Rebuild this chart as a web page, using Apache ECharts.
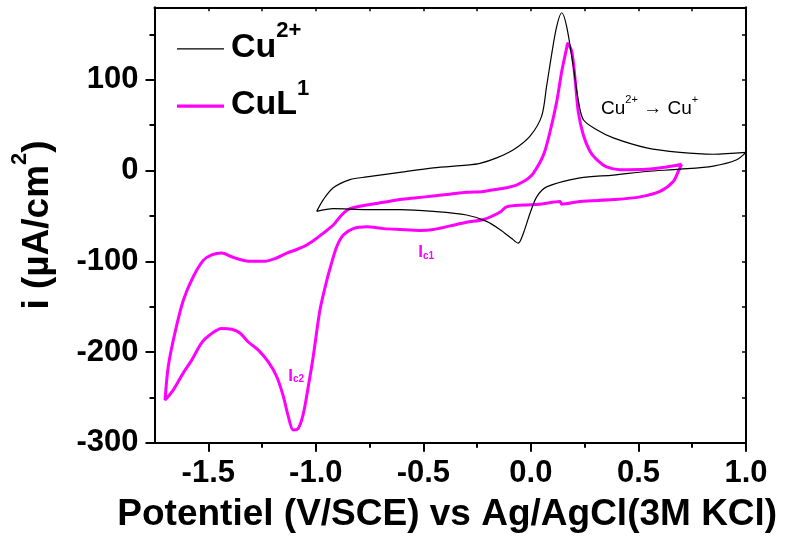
<!DOCTYPE html>
<html>
<head>
<meta charset="utf-8">
<title>Voltammogrammes cycliques Cu2+ / CuL1</title>
<script src="https://cdn.jsdelivr.net/npm/echarts@6/dist/echarts.min.js"></script>
<style>
  html, body { margin: 0; padding: 0; background: #fff; }
  #chart { width: 789px; height: 547px; }
</style>
</head>
<body>
<div id="chart"></div>
<script>
// Cyclic voltammogram of free Cu2+ (thin black) and the CuL1 complex (magenta).
// Potential in V, current density in µA/cm², points listed in scan order.
const cuPotential = [
  -0.996, -0.965, -0.919, -0.841, -0.763, -0.609, -0.454, -0.299, -0.237, -0.159,
  -0.081, -0.004, 0.050, 0.073, 0.097, 0.120, 0.143, 0.166, 0.197, 0.220,
  0.244, 0.306, 0.383, 0.538, 0.693, 0.848, 1.000, 0.957, 0.848, 0.693,
  0.538, 0.383, 0.228, 0.073, 0.027, -0.004, -0.035, -0.059, -0.089, -0.144,
  -0.206, -0.299, -0.454, -0.609, -0.763, -0.919, -0.996
];
const cuCurrent = [
  -45, -32, -19, -10, -7, -2, 3, 6, 8, 14,
  23, 38, 60, 93, 129, 159, 174, 159, 115, 78,
  56, 45, 36, 25, 20, 18, 20, 12, 5, 1.5,
  -1, -5, -8, -18, -29, -47, -69, -80, -75, -65,
  -56, -49, -45, -43, -43, -42, -45
];

const culPotential = [
  0.701, 0.685, 0.662, 0.600, 0.507, 0.383, 0.228, 0.143, 0.135, 0.042,
  -0.035, -0.113, -0.144, -0.221, -0.299, -0.376, -0.454, -0.516, -0.609, -0.686,
  -0.763, -0.826, -0.872, -0.903, -0.934, -0.949, -0.981, -1.012, -1.035, -1.058,
  -1.081, -1.105, -1.128, -1.151, -1.182, -1.221, -1.267, -1.314, -1.353, -1.391,
  -1.438, -1.492, -1.531, -1.577, -1.616, -1.663, -1.701, -1.686, -1.655, -1.616,
  -1.570, -1.523, -1.484, -1.438, -1.391, -1.352, -1.306, -1.236, -1.190, -1.135,
  -1.089, -1.042, -1.004, -0.965, -0.919, -0.880, -0.841, -0.763, -0.686, -0.609,
  -0.531, -0.454, -0.376, -0.299, -0.221, -0.144, -0.113, -0.067, -0.035, -0.020,
  0.011, 0.058, 0.089, 0.120, 0.143, 0.166, 0.171, 0.190, 0.205, 0.220,
  0.244, 0.275, 0.306, 0.352, 0.414, 0.538, 0.631, 0.701
];
const culCurrent = [
  7, -1, -12, -23, -29, -32, -34, -37, -34, -37,
  -38, -40, -46, -54, -57, -61, -65, -66, -65, -64,
  -62, -64, -71, -84, -108, -121, -154, -205, -238, -268,
  -284, -286, -271, -249, -227, -211, -198, -189, -179, -175,
  -174, -181, -190, -209, -223, -242, -253, -216, -179, -143,
  -117, -99, -93, -91, -95, -98, -100, -100, -97, -91,
  -87, -82, -76, -69, -60, -49, -42, -38, -35, -32,
  -30, -28, -26, -24, -23, -20, -19, -16, -12, -10,
  -3, 17, 43, 76, 109, 135, 140, 131, 102, 65,
  39, 21, 12, 4, 1, 1.5, 4, 7
];

// Tick positions
const xMajorTicks = [-1.5, -1.0, -0.5, 0.0, 0.5, 1.0];
const xMinorTicks = [-1.25, -0.75, -0.25, 0.25, 0.75];
const yMajorTicks = [-300, -200, -100, 0, 100];
const yMinorTicks = [-250, -150, -50, 50, 150];

const seriesNames = ['Cu2+', 'CuL1'];

const FONT = "'Liberation Sans', Arial, Helvetica, sans-serif";
const MAGENTA = '#ff00ff';
const X_RANGE = { min: -1.75, max: 1.0 };
const Y_RANGE = { min: -300, max: 180 };

function pairs(xs, ys) {
  return xs.map((x, i) => [x, ys[i]]);
}

const hiddenLabel = { show: false };
const frameLine = { show: true, onZero: false, lineStyle: { color: '#000', width: 2 } };

const chart = echarts.init(document.getElementById('chart'), null, { renderer: 'canvas' });

chart.setOption({
  animation: false,
  backgroundColor: '#fff',
  textStyle: { fontFamily: FONT },
  grid: { left: 154.5, right: 43, top: 7.3, bottom: 104.3, containLabel: false },
  legend: {
    orient: 'vertical',
    left: 172,
    top: 15.4,
    itemWidth: 47,
    itemHeight: 14,
    itemGap: 13.2,
    data: [
      { name: seriesNames[0], icon: 'path://M0 0H47V1.4H0Z' },
      { name: seriesNames[1], icon: 'path://M0 0H47V3.2H0Z' }
    ],
    formatter: function (name) {
      return name === 'Cu2+' ? '{m|Cu}{s|2+}' : '{m|CuL}{s|1}';
    },
    textStyle: {
      padding: [0, 0, 13, 2],
      rich: {
        m: { fontFamily: FONT, fontSize: 34, fontWeight: 'bold', color: '#000', lineHeight: 44, verticalAlign: 'bottom' },
        s: { fontFamily: FONT, fontSize: 22, fontWeight: 'bold', color: '#000', lineHeight: 2, verticalAlign: 'top' }
      }
    }
  },
  xAxis: [
    {
      type: 'value', position: 'bottom', ...X_RANGE,
      axisLine: frameLine,
      axisTick: { show: true, customValues: xMajorTicks, length: 9, inside: false, lineStyle: { color: '#000', width: 2 } },
      axisLabel: {
        customValues: xMajorTicks, margin: 15,
        fontFamily: FONT, fontSize: 31, fontWeight: 'bold', color: '#000',
        formatter: v => Number(v).toFixed(1)
      },
      splitLine: { show: false },
      name: 'Potentiel (V/SCE) vs Ag/AgCl(3M KCl)',
      nameLocation: 'middle',
      nameGap: 54,
      nameTextStyle: { fontFamily: FONT, fontSize: 37, fontWeight: 'bold', color: '#000', padding: [0, 6, 0, 0] }
    },
    {
      type: 'value', position: 'bottom', ...X_RANGE,
      axisLine: { show: false, onZero: false },
      axisTick: { show: true, customValues: xMinorTicks, length: 5, inside: false, lineStyle: { color: '#000', width: 2 } },
      axisLabel: hiddenLabel,
      splitLine: { show: false }
    },
    {
      type: 'value', position: 'top', ...X_RANGE,
      axisLine: frameLine,
      axisTick: { show: true, customValues: xMajorTicks.concat(xMinorTicks), length: 4, inside: true, lineStyle: { color: '#000', width: 1.5 } },
      axisLabel: hiddenLabel,
      splitLine: { show: false }
    }
  ],
  yAxis: [
    {
      type: 'value', position: 'left', ...Y_RANGE,
      axisLine: frameLine,
      axisTick: { show: true, customValues: yMajorTicks, length: 9, inside: false, lineStyle: { color: '#000', width: 2 } },
      axisLabel: {
        customValues: yMajorTicks, margin: 16,
        fontFamily: FONT, fontSize: 31, fontWeight: 'bold', color: '#000'
      },
      splitLine: { show: false },
      name: '{m|i (µA/cm}{s|2}{m|)}',
      nameLocation: 'middle',
      nameGap: 98,
      nameTextStyle: {
        rich: {
          m: { fontFamily: FONT, fontSize: 37, fontWeight: 'bold', color: '#000', lineHeight: 48, verticalAlign: 'bottom' },
          s: { fontFamily: FONT, fontSize: 22, fontWeight: 'bold', color: '#000', lineHeight: 2, verticalAlign: 'top' }
        }
      }
    },
    {
      type: 'value', position: 'left', ...Y_RANGE,
      axisLine: { show: false, onZero: false },
      axisTick: { show: true, customValues: yMinorTicks, length: 5, inside: false, lineStyle: { color: '#000', width: 2 } },
      axisLabel: hiddenLabel,
      splitLine: { show: false }
    },
    {
      type: 'value', position: 'right', ...Y_RANGE,
      axisLine: frameLine,
      axisTick: { show: true, customValues: yMajorTicks.concat(yMinorTicks), length: 4, inside: true, lineStyle: { color: '#000', width: 1.5 } },
      axisLabel: hiddenLabel,
      splitLine: { show: false }
    }
  ],
  series: [
    {
      name: seriesNames[0],
      type: 'line',
      xAxisIndex: 0, yAxisIndex: 0,
      data: pairs(cuPotential, cuCurrent),
      symbol: 'none',
      smooth: 0.3,
      lineStyle: { color: '#000', width: 1.2 },
      itemStyle: { color: '#000' },
      z: 3
    },
    {
      name: seriesNames[1],
      type: 'line',
      xAxisIndex: 0, yAxisIndex: 0,
      data: pairs(culPotential, culCurrent),
      symbol: 'none',
      smooth: 0.3,
      lineStyle: { color: MAGENTA, width: 3 },
      itemStyle: { color: MAGENTA },
      z: 2
    }
  ]
});

// Text annotations anchored in data coordinates
function toPx(p) {
  return chart.convertToPixel({ xAxisIndex: 0, yAxisIndex: 0 }, p);
}

const redoxPos = toPx([0.326, 70.6]);
const ic1Pos = toPx([-0.524, -90]);
const ic2Pos = toPx([-1.128, -226]);

const subRich = {
  m: { fontFamily: FONT, fontSize: 17, fontWeight: 'bold', fill: MAGENTA, lineHeight: 18, verticalAlign: 'bottom' },
  b: { fontFamily: FONT, fontSize: 10, fontWeight: 'bold', fill: MAGENTA, lineHeight: 8, verticalAlign: 'bottom' }
};

chart.setOption({
  graphic: [
    {
      type: 'text',
      x: redoxPos[0], y: redoxPos[1],
      z: 10,
      style: {
        text: '{m|Cu}{s|2+}{m| \u2192 Cu}{s|+}',
        align: 'left',
        verticalAlign: 'middle',
        rich: {
          m: { fontFamily: FONT, fontSize: 19, fill: '#000', lineHeight: 24, verticalAlign: 'bottom' },
          s: { fontFamily: FONT, fontSize: 11, fill: '#000', lineHeight: 1, verticalAlign: 'top' }
        }
      }
    },
    {
      type: 'text',
      x: ic1Pos[0], y: ic1Pos[1],
      z: 10,
      style: { text: '{m|I}{b|c1}', align: 'left', verticalAlign: 'middle', rich: subRich }
    },
    {
      type: 'text',
      x: ic2Pos[0], y: ic2Pos[1],
      z: 10,
      style: { text: '{m|I}{b|c2}', align: 'left', verticalAlign: 'middle', rich: subRich }
    }
  ]
});
</script>
</body>
</html>
